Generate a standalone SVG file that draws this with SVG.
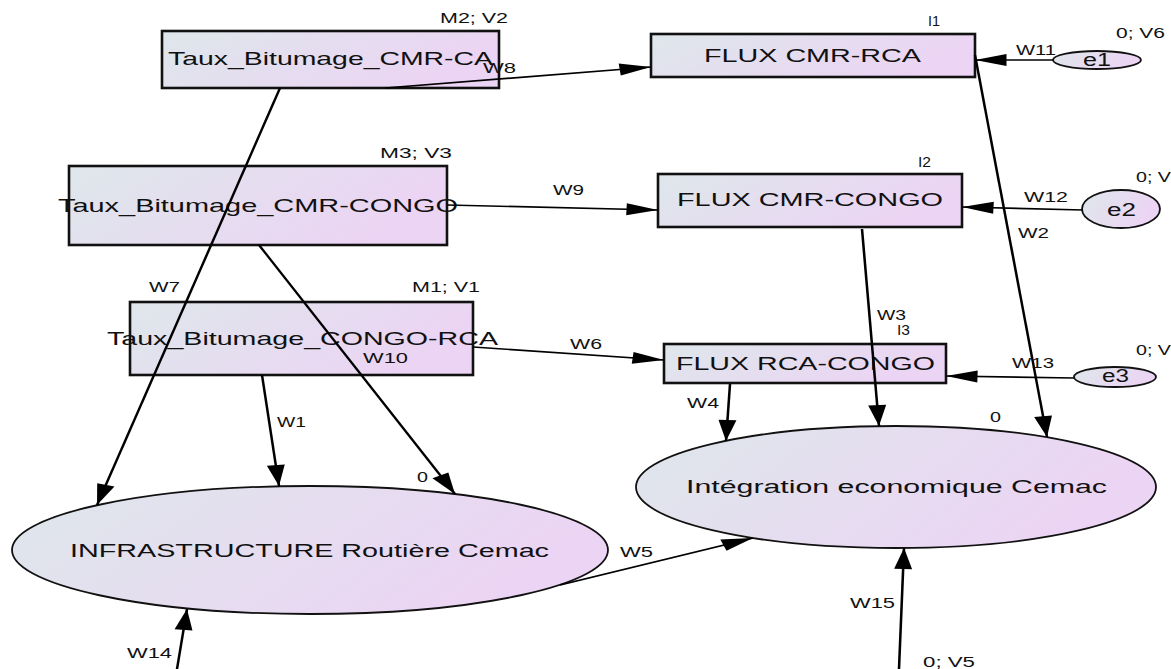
<svg xmlns="http://www.w3.org/2000/svg" width="1171" height="669" viewBox="0 0 1171 669">
<style>
.box{fill:url(#g);stroke:#111;stroke-width:2.6}
.ell{fill:url(#g);stroke:#111;stroke-width:1.8}
.t{font-family:"Liberation Sans",Arial,sans-serif;fill:#111}
.big{font-size:19px}
.mid{font-size:18px}
.lab{font-size:14px}
.c{fill:none;stroke:#000;stroke-width:1.7;marker-end:url(#ah)}
</style>
<defs>
<linearGradient id="g" x1="0" y1="0" x2="1" y2="0.3">
<stop offset="0" stop-color="#dee7eb"/>
<stop offset="1" stop-color="#ecd4f4"/>
</linearGradient>
<marker id="ah" markerUnits="userSpaceOnUse" markerWidth="21" markerHeight="12" refX="21" refY="6" orient="auto" overflow="visible">
<path d="M0,0 L21,6 L0,12 z" fill="#000"/>
</marker>
</defs>
<rect width="1171" height="669" fill="#fff"/>

<g id="box1">
<rect class="box" x="162" y="31" width="337" height="57"/>
<text class="t big" x="168" y="65" textLength="325" lengthAdjust="spacingAndGlyphs">Taux_Bitumage_CMR-CA</text>
<text class="t lab" x="440" y="23" textLength="68" lengthAdjust="spacingAndGlyphs">M2; V2</text>
</g>
<g id="box2">
<rect class="box" x="651" y="34" width="324" height="43"/>
<text class="t mid" x="704" y="62" textLength="217" lengthAdjust="spacingAndGlyphs">FLUX CMR-RCA</text>
<text class="t lab" x="928" y="26" textLength="12" lengthAdjust="spacingAndGlyphs">I1</text>
</g>
<g id="box3">
<rect class="box" x="69" y="166" width="378" height="79"/>
<text class="t big" x="58" y="212" textLength="400" lengthAdjust="spacingAndGlyphs">Taux_Bitumage_CMR-CONGO</text>
<text class="t lab" x="380" y="158" textLength="72" lengthAdjust="spacingAndGlyphs">M3; V3</text>
</g>
<g id="box4">
<rect class="box" x="658" y="174" width="304" height="53"/>
<text class="t mid" x="677" y="206" textLength="266" lengthAdjust="spacingAndGlyphs">FLUX CMR-CONGO</text>
<text class="t lab" x="918" y="167" textLength="13" lengthAdjust="spacingAndGlyphs">I2</text>
</g>
<g id="box5">
<rect class="box" x="130" y="302" width="343" height="73"/>
<text class="t big" x="107" y="345" textLength="391" lengthAdjust="spacingAndGlyphs">Taux_Bitumage_CONGO-RCA</text>
<text class="t lab" x="412" y="292" textLength="68" lengthAdjust="spacingAndGlyphs">M1; V1</text>
</g>
<g id="box6">
<rect class="box" x="664" y="344" width="282" height="39"/>
<text class="t mid" x="676" y="370" textLength="259" lengthAdjust="spacingAndGlyphs">FLUX RCA-CONGO</text>
<text class="t lab" x="897" y="335" textLength="13" lengthAdjust="spacingAndGlyphs">I3</text>
</g>
<g id="e1">
<ellipse class="ell" cx="1097" cy="60" rx="44" ry="9"/>
<text class="t mid" x="1083" y="66" textLength="28" lengthAdjust="spacingAndGlyphs">e1</text>
<text class="t lab" x="1116" y="38" textLength="49" lengthAdjust="spacingAndGlyphs">0; V6</text>
</g>
<g id="e2">
<ellipse class="ell" cx="1121" cy="209" rx="39" ry="19"/>
<text class="t mid" x="1107" y="216" textLength="29" lengthAdjust="spacingAndGlyphs">e2</text>
<text class="t lab" x="1136" y="182" textLength="35" lengthAdjust="spacingAndGlyphs">0; V</text>
</g>
<g id="e3">
<ellipse class="ell" cx="1115" cy="377" rx="41" ry="10"/>
<text class="t mid" x="1102" y="382" textLength="27" lengthAdjust="spacingAndGlyphs">e3</text>
<text class="t lab" x="1136" y="355" textLength="35" lengthAdjust="spacingAndGlyphs">0; V</text>
</g>
<g id="infra">
<ellipse class="ell" cx="310" cy="550" rx="298" ry="64"/>
<text class="t mid" x="70" y="557" textLength="479" lengthAdjust="spacingAndGlyphs">INFRASTRUCTURE Routière Cemac</text>
<text class="t lab" x="417" y="482" textLength="11" lengthAdjust="spacingAndGlyphs">0</text>
</g>
<g id="integ">
<ellipse class="ell" cx="896" cy="487" rx="260" ry="61"/>
<text class="t mid" x="686" y="493" textLength="421" lengthAdjust="spacingAndGlyphs">Intégration economique Cemac</text>
<text class="t lab" x="990" y="422" textLength="11" lengthAdjust="spacingAndGlyphs">0</text>
</g>

<g id="connectors">
<g transform="scale(1.5,1)">
<line class="c" x1="256.67" y1="88" x2="434" y2="67"/>
<line class="c" x1="298" y1="205" x2="438.67" y2="210"/>
<line class="c" x1="315.33" y1="347" x2="442.67" y2="360"/>
<line class="c" x1="702" y1="60" x2="650" y2="60"/>
<line class="c" x1="722" y1="210" x2="641.33" y2="207"/>
<line class="c" x1="716" y1="378" x2="630.67" y2="376"/>
<line class="c" x1="650" y1="55" x2="698" y2="437"/>
<line class="c" x1="574.67" y1="229" x2="586" y2="426"/>
<line class="c" x1="486.67" y1="384" x2="484" y2="441"/>
<line class="c" x1="186.67" y1="88" x2="64.67" y2="505"/>
<line class="c" x1="172.67" y1="245" x2="303.33" y2="494"/>
<line class="c" x1="174.67" y1="375" x2="186" y2="486"/>
<line class="c" x1="118" y1="669" x2="124.67" y2="609"/>
<line class="c" x1="373.33" y1="585" x2="502" y2="538"/>
<line class="c" x1="599.33" y1="669" x2="602.67" y2="548"/>
</g>
<text class="t lab" x="483" y="73" textLength="33" lengthAdjust="spacingAndGlyphs">W8</text>
<text class="t lab" x="553" y="195" textLength="31" lengthAdjust="spacingAndGlyphs">W9</text>
<text class="t lab" x="570" y="349" textLength="32" lengthAdjust="spacingAndGlyphs">W6</text>
<text class="t lab" x="1016" y="55" textLength="40" lengthAdjust="spacingAndGlyphs">W11</text>
<text class="t lab" x="1024" y="202" textLength="44" lengthAdjust="spacingAndGlyphs">W12</text>
<text class="t lab" x="1012" y="368" textLength="42" lengthAdjust="spacingAndGlyphs">W13</text>
<text class="t lab" x="1018" y="238" textLength="31" lengthAdjust="spacingAndGlyphs">W2</text>
<text class="t lab" x="877" y="320" textLength="29" lengthAdjust="spacingAndGlyphs">W3</text>
<text class="t lab" x="687" y="408" textLength="32" lengthAdjust="spacingAndGlyphs">W4</text>
<text class="t lab" x="149" y="292" textLength="31" lengthAdjust="spacingAndGlyphs">W7</text>
<text class="t lab" x="363" y="363" textLength="45" lengthAdjust="spacingAndGlyphs">W10</text>
<text class="t lab" x="277" y="427" textLength="29" lengthAdjust="spacingAndGlyphs">W1</text>
<text class="t lab" x="127" y="658" textLength="45" lengthAdjust="spacingAndGlyphs">W14</text>
<text class="t lab" x="620" y="557" textLength="33" lengthAdjust="spacingAndGlyphs">W5</text>
<text class="t lab" x="850" y="608" textLength="45" lengthAdjust="spacingAndGlyphs">W15</text>
<text class="t lab" x="923" y="667" textLength="52" lengthAdjust="spacingAndGlyphs">0; V5</text>
</g>
</svg>
